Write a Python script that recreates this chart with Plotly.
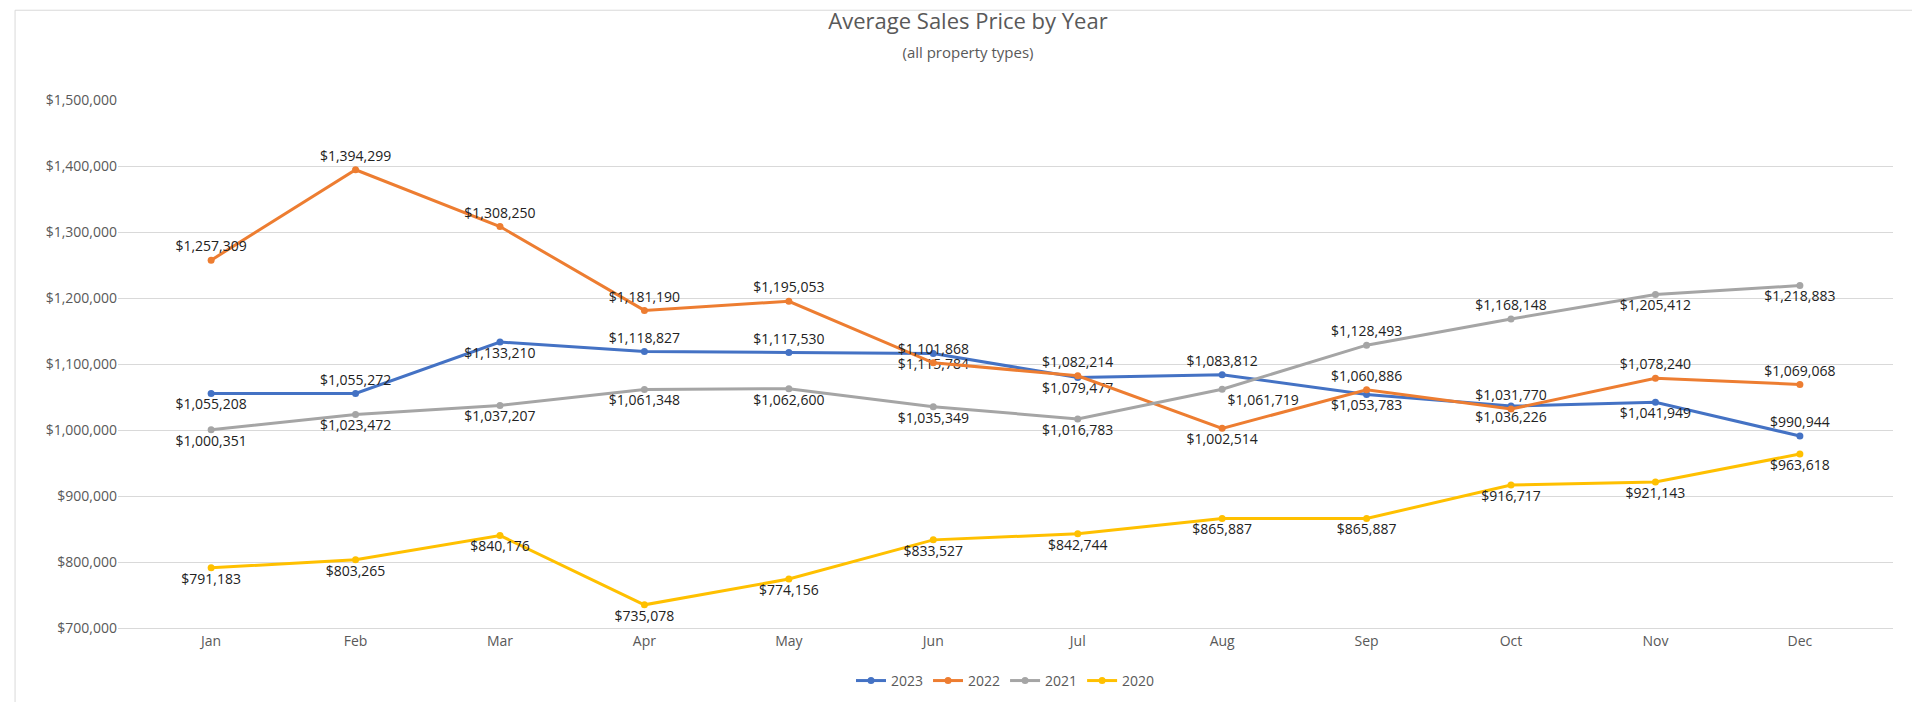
import plotly.graph_objs as go


if __name__ == "__main__":
    # DATA
    months = ['Jan', 'Feb', 'Mar', 'Apr', 'May', 'Jun', 'Jul', 'Aug', 'Sep', 'Oct', 'Nov', 'Dec']
    series = {
        '2023': ([1055208, 1055272, 1133210, 1118827, 1117530, 1115784, 1079477, 1083812, 1053783, 1036226, 1041949, 990944],
                 '#4472C4',
                 ['bottom center', 'top center', 'bottom center', 'top center', 'top center', 'bottom center',
                  'bottom center', 'top center', 'bottom center', 'bottom center', 'bottom center', 'top center']),
        '2022': ([1257309, 1394299, 1308250, 1181190, 1195053, 1101868, 1082214, 1002514, 1060886, 1031770, 1078240, 1069068],
                 '#ED7D31',
                 ['top center'] * 5 + ['top center', 'top center', 'bottom center', 'top center', 'top center', 'top center', 'top center']),
        '2021': ([1000351, 1023472, 1037207, 1061348, 1062600, 1035349, 1016783, 1061719, 1128493, 1168148, 1205412, 1218883],
                 '#A5A5A5',
                 ['bottom center'] * 7 + ['bottom right', 'top center', 'top center', 'bottom center', 'bottom center']),
        '2020': ([791183, 803265, 840176, 735078, 774156, 833527, 842744, 865887, 865887, 916717, 921143, 963618],
                 '#FFC000',
                 ['bottom center'] * 12),
    }

    fig = go.Figure()
    for name, (vals, color, pos) in series.items():
        fig.add_trace(go.Scatter(
            x=months, y=vals, name=name, mode='lines+markers+text',
            line=dict(color=color, width=3),
            marker=dict(color=color, size=7),
            text=['${:,.0f}'.format(v) for v in vals],
            textposition=pos,
            textfont=dict(size=14, color='#222222'),
        ))

    fig.update_layout(
        width=1920, height=702,
        font=dict(family='Open Sans', color='#595959'),
        title=dict(text='Average Sales Price by Year<br><span style="font-size:15px">(all property types)</span>',
                   x=0.5, y=0.97, xanchor='center', font=dict(size=22, color='#595959')),
        plot_bgcolor='white', paper_bgcolor='white',
        margin=dict(l=110, r=35, t=92, b=82),
        legend=dict(orientation='h', x=0.5, xanchor='center', y=-0.07, yanchor='top', font=dict(size=14)),
        yaxis=dict(range=[700000, 1500000], dtick=100000, tickformat='$,.0f', gridcolor='#D9D9D9',
                   zeroline=False, tickfont=dict(size=14)),
        xaxis=dict(showgrid=False, showline=True, linecolor='#D9D9D9', tickfont=dict(size=14)),
        shapes=[dict(type='rect', xref='paper', yref='paper', x0=-0.058, y0=-0.145, x1=1.012, y1=1.17,
                     line=dict(color='#D9D9D9', width=1))],
    )
    fig.write_html("out.html")
